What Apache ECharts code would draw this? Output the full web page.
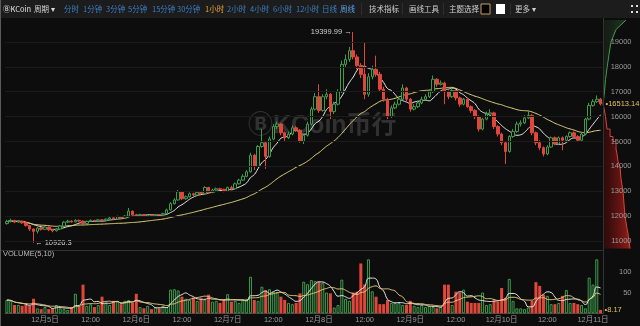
<!DOCTYPE html>
<html><head><meta charset="utf-8">
<script src="https://cdn.jsdelivr.net/npm/echarts@6/dist/echarts.min.js"></script>
<style>html,body{margin:0;padding:0;background:#0d0d0d;}#c{width:640px;height:326px;}</style>
</head><body><div id="c"></div>
<script>
// first candle: 12月4日 14:00, hourly candles
const firstDay = 4, firstHour = 14;
const opens = [11700,11780,11830,11760,11800,11730,11620,11480,11390,11520,11470,11560,11450,11410,11480,11600,11760,11800,11770,11830,
11800,11700,11790,11830,11810,11850,11830,11880,11930,11880,11980,11920,12000,12200,12060,12020,12060,12000,12040,12020,
12060,12050,12100,12250,12500,12650,12980,12700,12780,12900,12850,12950,12900,13150,12950,13050,13100,13080,13000,13150,
13100,13300,13450,13600,13780,14450,14000,14800,14950,14400,15100,15600,15700,15350,15150,15300,15550,15450,15000,15250,
15700,16300,16800,16250,16800,16900,16200,16500,17000,18100,18300,18650,18400,18050,17700,16900,17600,17900,17700,17100,
16700,16000,16350,16500,16700,17150,16700,16300,16400,16550,16700,16800,17000,17500,17300,17350,17000,16800,17050,16750,
16500,16700,16400,16250,16000,15500,15900,16100,16150,15600,15300,14950,14600,15200,15400,15700,15750,15950,16050,15350,
14950,14750,14500,14780,15150,14900,15150,15050,15200,15350,15200,15050,15300,15900,16450,16600,16700];
const closes = [11780,11830,11760,11800,11730,11620,11480,11390,11520,11470,11560,11450,11410,11480,11600,11760,11800,11770,11830,11800,
11700,11790,11830,11810,11850,11830,11880,11930,11880,11980,11920,12000,12200,12060,12020,12060,12000,12040,12020,12060,
12050,12100,12250,12500,12650,12980,12700,12780,12900,12850,12950,12900,13150,12950,13050,13100,13080,13000,13150,13100,
13300,13450,13600,13780,14450,14000,14800,14950,14400,15100,15600,15700,15350,15150,15300,15550,15450,15000,15250,15700,
16300,16800,16250,16800,16900,16200,16500,17000,18100,18300,18650,18400,18050,17700,16900,17600,17900,17700,17100,16700,
16000,16350,16500,16700,17150,16700,16300,16400,16550,16700,16800,17000,17500,17300,17350,17000,16800,17050,16750,16500,
16700,16400,16250,16000,15500,15900,16100,16150,15600,15300,14950,14600,15200,15400,15700,15750,15950,16050,15350,14950,
14750,14500,14780,15150,14900,15150,15050,15200,15350,15200,15050,15300,15900,16450,16600,16700,16513.14];
const highs = [11850,11900,11850,11840,11820,11750,11650,11500,11560,11560,11600,11590,11480,11520,11640,11800,11850,11830,11880,11860,
11820,11820,11870,11850,11890,11870,11910,11970,11950,12020,12000,12040,12330,12220,12090,12100,12080,12070,12060,12090,
12080,12140,12300,12560,12720,13050,13000,12830,12950,12940,12990,12980,13200,13180,13100,13150,13140,13100,13190,13220,
13350,13500,13680,13850,14550,14500,14860,15500,15000,15200,15700,15800,15750,15400,15400,15650,15620,15500,15300,15800,
16400,16950,17300,16900,17100,16950,16600,17100,18250,18500,18800,19399.99,18500,18150,19000,17750,18050,18450,17800,17200,
16750,16450,16600,16800,17300,17200,16750,16500,16650,16800,16900,17100,17650,17550,17450,17400,17050,17150,17100,16800,
16750,16750,16450,16300,16050,15950,16200,16300,16200,15650,15350,15000,15250,15500,15800,15850,16050,16250,16100,15400,
15050,14800,14850,15200,15200,15200,15200,15250,15400,15400,15250,15350,15950,16550,16700,16850,16750];
const lows = [11660,11750,11720,11730,11690,11580,11400,10926.3,11300,11420,11440,11400,11350,11380,11450,11580,11720,11740,11750,11770,
11650,11680,11770,11780,11790,11800,11810,11860,11850,11860,11890,11900,11980,12020,11980,12000,11970,11980,11990,12000,
12020,12030,12080,12230,12470,12620,12650,12660,12750,12800,12820,12860,12880,12900,12920,13020,13040,12960,12980,13060,
13080,13270,13420,13560,13750,13850,13980,14750,13900,14350,15050,15500,15250,15000,15100,15250,15380,14950,14900,15200,
15650,16250,16150,16200,16700,15900,16100,16450,16950,18000,18200,18300,17900,17550,16700,16800,17500,17600,17000,16600,
15900,15950,16300,16450,16650,16600,16200,16250,16350,16500,16650,16750,16950,17200,17250,16500,16700,16750,16650,16400,
16450,16350,16150,15900,15400,15450,15850,16000,15500,15200,14850,14100,14550,15150,15350,15600,15700,15900,15250,14850,
14650,14400,14450,14750,14850,14850,14650,15000,15150,15150,15000,15000,15250,15850,16400,16550,16450];
const volumes = [32,30,20,20,18,20,18,35,12,10,15,10,12,20,12,10,8,15,47,15,
69,18,22,15,20,40,25,20,30,28,22,30,32,25,47,15,12,18,10,14,
12,18,15,57,58,55,40,35,32,38,30,35,33,45,28,30,25,32,46,28,
30,25,32,35,88,32,30,64,55,58,52,50,40,32,25,22,25,48,76,70,
80,78,75,74,50,48,14,20,81,35,30,50,52,120,69,130,53,40,22,22,
32,25,25,25,20,20,30,18,15,20,15,18,15,12,15,69,69,20,52,50,
57,28,25,25,25,50,20,22,30,28,61,37,83,30,12,12,10,14,30,75,
66,45,42,22,22,25,42,56,25,25,22,20,12,86,69,130,8.17];
// market depth: [cumulative amount, price]
const askDepth = [[0,16520],[60,16700],[150,17000],[250,17500],[420,18000],[600,18500],[800,19000],[1300,19500],[2300,19880]];
const bidDepth = [[0,16500],[120,16300],[250,16000],[400,15500],[700,15200],[1000,15000],[1300,14700],[1400,14500],[1500,14200],[1700,14000],[1800,13500],[2000,13000],[2100,12500],[2200,12000],[2400,11500],[2500,11300],[2600,11000],[2700,10700]];
const priceTicks = {min:10000, max:20000, interval:1000};
const volTicks = {min:0, max:150, interval:50};

const UP = '#3f9c4d', DOWN = '#e0473b', BG = '#0d0d0d';
const FONT = "'Liberation Sans','Noto Sans CJK SC',sans-serif";

const cats = closes.map((_, i) => {
  const h = firstHour + i;
  return (firstDay + Math.floor(h / 24)) + '|' + (h % 24);
});
const ma = (arr, n) => arr.map((_, i) => {
  const s = Math.max(0, i - n + 1); let t = 0;
  for (let k = s; k <= i; k++) t += arr[k];
  return +(t / (i - s + 1)).toFixed(2);
});
const candles = opens.map((o, i) => [o, closes[i], lows[i], highs[i]]);
const volData = volumes.map((v, i) => closes[i] >= opens[i]
  ? {value: v, itemStyle: {color: BG, borderColor: UP, borderWidth: 1}}
  : {value: v, itemStyle: {color: DOWN, borderColor: DOWN, borderWidth: 0}});

const chart = echarts.init(document.getElementById('c'), null, {renderer: 'canvas'});

function depthArea(points, c0, c1) {
  return (params, api) => {
    const pts = points.map(p => api.coord(p));
    const a = api.coord([0, points[0][1]]);
    const b = api.coord([0, points[points.length - 1][1]]);
    return {type: 'polygon', shape: {points: [a].concat(pts, [b])},
      style: {fill: new echarts.graphic.LinearGradient(0, 0, 1, 0, [{offset: 0, color: c0}, {offset: 1, color: c1}])}};
  };
}

const toolbar = [
  ['ⒷKCoin', 3, '#e0e0e0'], ['周期 ▾', 34, '#d8d8d8'],
  ['分时', 64, '#3d7fc4'], ['1分钟', 83, '#3d7fc4'], ['3分钟', 106, '#3d7fc4'], ['5分钟', 128, '#3d7fc4'],
  ['15分钟', 152, '#3d7fc4'], ['30分钟', 177, '#3d7fc4'], ['1小时', 205, '#e8a43a'], ['2小时', 227, '#3d7fc4'],
  ['4小时', 250, '#3d7fc4'], ['6小时', 273, '#3d7fc4'], ['12小时', 296, '#3d7fc4'], ['日线', 322, '#3d7fc4'],
  ['周线', 340, '#5aa0ea'], ['技术指标', 369, '#cfcfcf'], ['画线工具', 409, '#cfcfcf'], ['主题选择', 449, '#cfcfcf'],
  ['更多 ▾', 515, '#cfcfcf']
];
const graphics = [
  {type: 'rect', shape: {x: 0, y: 0, width: 640, height: 18}, style: {fill: '#1c1c1c'}, z: -10},
  {type: 'rect', shape: {x: 0, y: 0, width: 1, height: 326}, style: {fill: '#5a5a5a'}, z: 50},
  {type: 'rect', shape: {x: 0, y: 250, width: 603, height: 1}, style: {fill: '#333'}, z: 5},
  {type: 'rect', shape: {x: 603, y: 18, width: 1, height: 296}, style: {fill: '#333'}, z: 5},
  {type: 'rect', shape: {x: 481, y: 4, width: 9, height: 10}, style: {fill: '#000', stroke: '#c8a060', lineWidth: 1}},
  {type: 'rect', shape: {x: 496, y: 4, width: 9, height: 10}, style: {fill: '#fff'}},
  {type: 'rect', shape: {x: 631, y: 5, width: 2, height: 2}, style: {fill: '#ddd'}},
  {type: 'rect', shape: {x: 636, y: 5, width: 2, height: 2}, style: {fill: '#ddd'}},
  {type: 'rect', shape: {x: 631, y: 11, width: 2, height: 2}, style: {fill: '#ddd'}},
  {type: 'rect', shape: {x: 636, y: 11, width: 2, height: 2}, style: {fill: '#ddd'}},
  {type: 'text', x: 248, y: 126, style: {text: 'ⒷKCoin币行', fill: 'rgba(255,255,255,0.15)', font: "bold 25px 'Liberation Sans','Noto Sans CJK SC',sans-serif", verticalAlign: 'middle'}, z: 1},
  {type: 'text', x: 3, y: 254, style: {text: 'VOLUME(5,10)', fill: '#bbb', font: "7.5px 'Liberation Sans',sans-serif", verticalAlign: 'middle'}}
].concat(toolbar.map(t => ({type: 'text', x: t[1], y: 9,
  style: {text: t[0], fill: t[2], font: "7.5px 'Noto Sans CJK SC',sans-serif", verticalAlign: 'middle'}})));
[361, 402, 443, 510].forEach(x => graphics.push({type: 'rect', shape: {x: x, y: 3, width: 1, height: 12}, style: {fill: '#2e2e2e'}}));

const hiddenLine = {color: 'rgba(0,0,0,0)', width: 1, type: 'solid'};
const option = {
  backgroundColor: BG,
  animation: false,
  textStyle: {fontFamily: FONT},
  graphic: graphics,
  grid: [
    {left: 5, right: 37.5, top: 17.1, height: 248.8},
    {left: 5, right: 37.5, top: 251, height: 62.3},
    {left: 603, right: 0, top: 17.1, height: 248.8}
  ],
  xAxis: [
    {type: 'category', gridIndex: 0, data: cats, show: false},
    {type: 'category', gridIndex: 1, data: cats,
      axisLine: {lineStyle: {color: '#444'}}, axisTick: {show: false},
      axisLabel: {color: '#9a9a9a', fontSize: 7.5, fontFamily: FONT, margin: 3,
        interval: (i, v) => { const h = +v.split('|')[1]; return h === 0 || h === 12; },
        formatter: v => { const p = v.split('|'); return +p[1] === 0 ? '12月' + p[0] + '日' : '12:00'; }}},
    {type: 'value', gridIndex: 2, min: 0, max: 3700, show: false}
  ],
  yAxis: [
    {type: 'value', gridIndex: 0, position: 'right', min: priceTicks.min, max: priceTicks.max, interval: priceTicks.interval, z: 10,
      axisLine: {show: false}, axisTick: {show: false},
      axisLabel: {color: '#9a9a9a', fontSize: 7.5, align: 'right', margin: 29, showMinLabel: false, showMaxLabel: false, formatter: v => String(v)},
      splitLine: {show: true, showMinLine: false, showMaxLine: false, lineStyle: {color: '#1b1b1b'}}},
    {type: 'value', gridIndex: 1, position: 'right', min: volTicks.min, max: volTicks.max, interval: volTicks.interval, z: 10,
      axisLine: {show: false}, axisTick: {show: false},
      axisLabel: {color: '#9a9a9a', fontSize: 7.5, align: 'right', margin: 29, showMinLabel: false, showMaxLabel: false, formatter: v => String(v)},
      splitLine: {show: false}},
    {type: 'value', gridIndex: 2, min: priceTicks.min, max: priceTicks.max, show: false}
  ],
  series: [
    {type: 'candlestick', xAxisIndex: 0, yAxisIndex: 0, data: candles, barWidth: 3, z: 3,
      itemStyle: {color: BG, borderColor: UP, color0: DOWN, borderColor0: DOWN, borderWidth: 1},
      markPoint: {symbol: 'circle', symbolSize: 1, itemStyle: {color: 'rgba(0,0,0,0)'},
        label: {show: true, color: '#cfcfcf', fontSize: 7.5, distance: 1},
        data: [
          {type: 'max', valueDim: 'highest', label: {position: 'left', formatter: p => p.value + ' →'}},
          {type: 'min', valueDim: 'lowest', label: {position: 'right', formatter: p => '← ' + p.value}}
        ]},
      markLine: {symbol: ['none', 'none'], silent: true, z: 20, lineStyle: hiddenLine,
        label: {show: true, position: 'end', distance: 3, color: '#e6c25c', fontSize: 7.5, formatter: p => '•' + p.value},
        data: [{yAxis: closes[closes.length - 1]}]}},
    {type: 'line', xAxisIndex: 0, yAxisIndex: 0, data: ma(closes, 7), showSymbol: false, smooth: true,
      lineStyle: {color: '#eeeeee', width: 1}},
    {type: 'line', xAxisIndex: 0, yAxisIndex: 0, data: ma(closes, 30), showSymbol: false, smooth: true,
      lineStyle: {color: '#e3d77c', width: 1}},
    {type: 'bar', xAxisIndex: 1, yAxisIndex: 1, data: volData, barWidth: 3,
      markLine: {symbol: ['none', 'none'], silent: true, z: 20, lineStyle: hiddenLine,
        label: {show: true, position: 'end', distance: 2, color: '#e6c25c', fontSize: 7.5, formatter: p => '•' + p.value},
        data: [{yAxis: volumes[volumes.length - 1]}]}},
    {type: 'line', xAxisIndex: 1, yAxisIndex: 1, data: ma(volumes, 5), showSymbol: false, smooth: true,
      lineStyle: {color: '#e8e8e8', width: 1}},
    {type: 'line', xAxisIndex: 1, yAxisIndex: 1, data: ma(volumes, 10), showSymbol: false, smooth: true,
      lineStyle: {color: '#e3c878', width: 1}},
    {type: 'custom', xAxisIndex: 2, yAxisIndex: 2, data: [[0, 16500]], z: 1,
      renderItem: depthArea(bidDepth, 'rgba(70,8,8,0.5)', 'rgba(190,35,30,0.75)')},
    {type: 'custom', xAxisIndex: 2, yAxisIndex: 2, data: [[0, 16520]], z: 1,
      renderItem: depthArea(askDepth, 'rgba(25,35,25,0.6)', 'rgba(40,70,40,0.7)')},
    {type: 'line', xAxisIndex: 2, yAxisIndex: 2, data: bidDepth, showSymbol: false, step: 'end',
      lineStyle: {color: '#d8453a', width: 1}},
    {type: 'line', xAxisIndex: 2, yAxisIndex: 2, data: askDepth, showSymbol: false,
      lineStyle: {color: '#3f9c4d', width: 1}}
  ]
};
chart.setOption(option);
</script></body></html>
